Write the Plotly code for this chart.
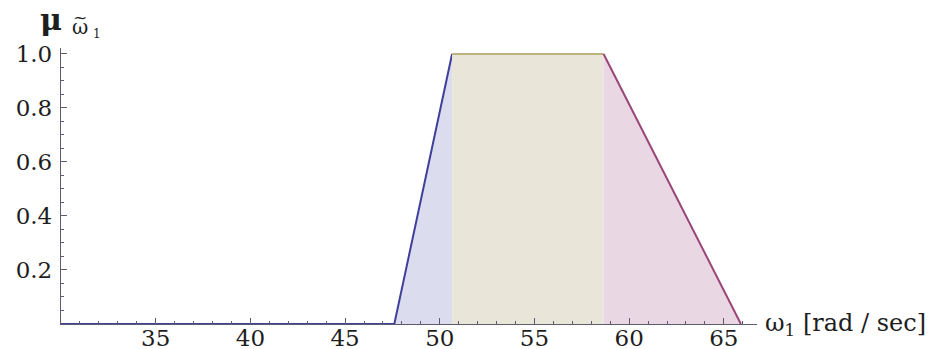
import plotly.graph_objects as go

# Data
x_start = 30.0
rise_x = [30.0, 47.6, 50.65]
rise_mu = [0.0, 0.0, 1.0]
plateau_x = [50.65, 58.65]
plateau_mu = [1.0, 1.0]
fall_x = [58.65, 65.9]
fall_mu = [1.0, 0.0]
x_ticks = [35, 40, 45, 50, 55, 60, 65]
y_ticks = [0.2, 0.4, 0.6, 0.8, 1.0]
y_tick_labels = ["0.2", "0.4", "0.6", "0.8", "1.0"]

FONT = "DejaVu Serif"
AXIS_COLOR = "#5c5c70"
TXT = "#1e1e1e"

fig = go.Figure()
fig.add_trace(go.Scatter(x=rise_x, y=rise_mu, mode="lines", fill="tozeroy",
                         fillcolor="#dcdcef", line=dict(color="#3f3f9c", width=2),
                         cliponaxis=False, hoverinfo="skip"))
fig.add_trace(go.Scatter(x=plateau_x, y=plateau_mu, mode="lines", fill="tozeroy",
                         fillcolor="#e9e6d9", line=dict(color="#bdb27f", width=2),
                         cliponaxis=False, hoverinfo="skip"))
fig.add_trace(go.Scatter(x=fall_x, y=fall_mu, mode="lines", fill="tozeroy",
                         fillcolor="#e9d7e4", line=dict(color="#9a4577", width=2),
                         cliponaxis=False, hoverinfo="skip"))

fig.update_layout(
    width=932, height=349,
    margin=dict(l=61, r=175, t=48, b=25, autoexpand=False),
    paper_bgcolor="white", plot_bgcolor="white",
    showlegend=False,
    font=dict(family=FONT, size=23, color=TXT),
    xaxis=dict(range=[x_start, 66.75], tickvals=x_ticks, ticks="inside",
               ticklen=6, tickcolor=AXIS_COLOR, tickwidth=1, automargin=False,
               showline=True, linecolor=AXIS_COLOR, linewidth=1.3,
               showgrid=False, zeroline=False, ticklabelstandoff=-7,
               minor=dict(dtick=1, ticks="inside", ticklen=3, tickcolor=AXIS_COLOR, showgrid=False),
               tickfont=dict(family=FONT, size=23, color=TXT)),
    yaxis=dict(range=[0, 1.022], tickvals=y_ticks, ticktext=y_tick_labels,
               ticks="inside", ticklen=6, tickcolor=AXIS_COLOR, tickwidth=1, automargin=False,
               showline=True, linecolor=AXIS_COLOR, linewidth=1.3,
               showgrid=False, zeroline=False, ticklabelstandoff=3,
               minor=dict(dtick=0.05, ticks="inside", ticklen=3, tickcolor=AXIS_COLOR, showgrid=False),
               tickfont=dict(family=FONT, size=23, color=TXT)),
)

# x-axis label to the right of the axis end
fig.add_annotation(xref="paper", yref="paper", x=1.0, y=0, xanchor="left", yanchor="middle",
                   xshift=6, showarrow=False,
                   text="ω<sub>1</sub> [rad / sec]",
                   font=dict(family=FONT, size=24, color=TXT))

# y-axis label  μ_{ω̃1}, built from pieces placed relative to the plot's top-left corner
def corner_text(text, cx, cy, size, weight="normal"):
    fig.add_annotation(xref="paper", yref="paper", x=0, y=1, xanchor="center", yanchor="middle",
                       xshift=cx - 61, yshift=48 - cy, showarrow=False,
                       text=text,
                       font=dict(family=FONT, size=size, color=TXT, weight=weight))

corner_text("μ", 51, 19, 30, weight="bold")
corner_text("ω", 80, 27, 20)
corner_text("~", 80, 17, 17)
corner_text("1", 97, 34, 12)

fig.write_html("out.html")
